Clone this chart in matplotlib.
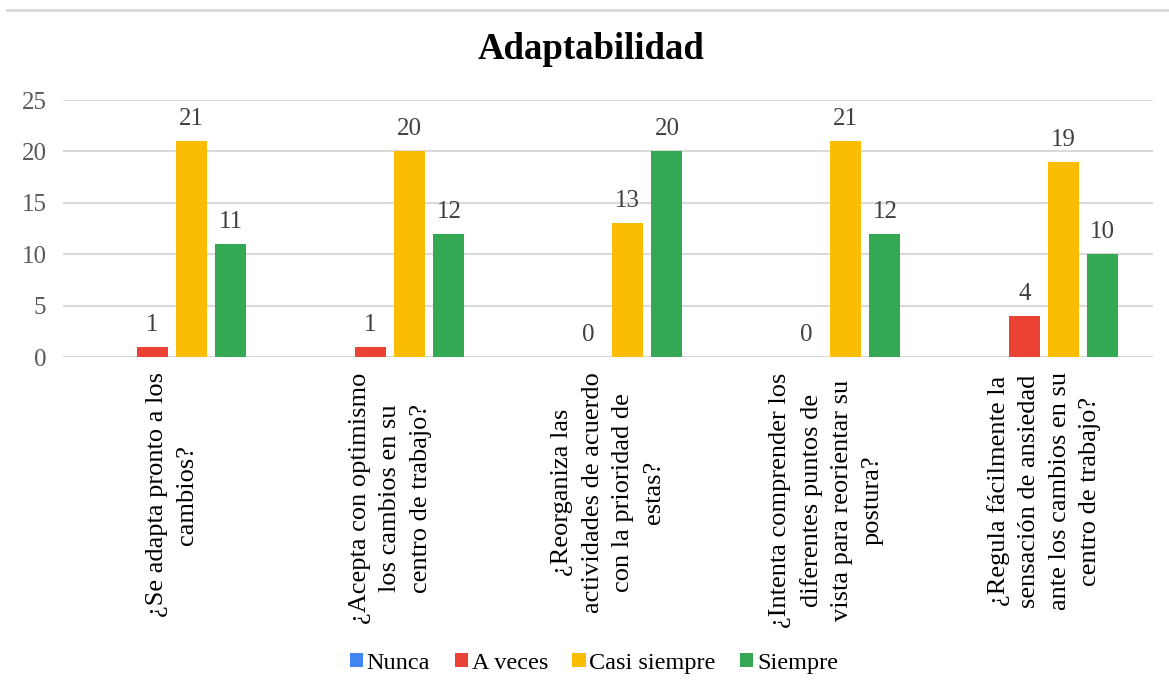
import numpy as np
import matplotlib.pyplot as plt
from matplotlib.lines import Line2D

plt.rcParams['font.family'] = ['Liberation Serif', 'DejaVu Serif']

categories = [
    "¿Se adapta pronto a los\ncambios?",
    "¿Acepta con optimismo\nlos cambios en su\ncentro de trabajo?",
    "¿Reorganiza las\nactividades de acuerdo\ncon la prioridad de\nestas?",
    "¿Intenta comprender los\ndiferentes puntos de\nvista para reorientar su\npostura?",
    "¿Regula fácilmente la\nsensación de ansiedad\nante los cambios en su\ncentro de trabajo?",
]
series_names = ["Nunca", "A veces", "Casi siempre", "Siempre"]
nunca = [0, 0, 0, 0, 0]
a_veces = [1, 1, 0, 0, 4]
casi_siempre = [21, 20, 13, 21, 19]
siempre = [11, 12, 20, 12, 10]
yticks = [0, 5, 10, 15, 20, 25]

colors = ['#4285F4', '#EA4335', '#FBBC04', '#34A853']
values = [nunca, a_veces, casi_siempre, siempre]

fig = plt.figure(figsize=(11.69, 6.95), dpi=100)
ax = fig.add_axes([0.054, 0.4863, 0.9323, 0.3698])

x = np.arange(len(categories))
step = 0.18
width = 0.142
for i, (name, vals, c) in enumerate(zip(series_names, values, colors)):
    bars = ax.bar(x + (i - 1.5) * step, vals, width, color=c, label=name, zorder=3)
    if i > 0:
        ax.bar_label(bars, padding=8, fontsize=18, color='#404040')

ax.set_xlim(-0.5, len(categories) - 0.5)
ax.set_ylim(0, 25)
ax.set_yticks(yticks)
ax.yaxis.grid(True, color='#D9D9D9', linewidth=1.5, zorder=0)
ax.set_axisbelow(True)
for s in ax.spines.values():
    s.set_visible(False)
ax.tick_params(axis='y', length=0, pad=12, labelsize=18, labelcolor='#595959')
ax.set_xticks(x)
ax.set_xticklabels(categories, rotation=90, ha='center', va='top',
                   multialignment='center', fontsize=19, linespacing=1.5)
ax.tick_params(axis='x', length=0, pad=11)

fig.text(0.506, 0.929, "Adaptabilidad", ha='center', va='center',
         fontsize=26.5, fontweight='bold')

fig.legend(loc='center', bbox_to_anchor=(0.508, 0.046), ncol=4, frameon=False,
           fontsize=17.5, handlelength=0.55, handleheight=0.55, handletextpad=0.15,
           columnspacing=1.0)

fig.add_artist(Line2D([0.006, 1.0], [0.9855, 0.9855], color='#D9D9D9', linewidth=2,
                      transform=fig.transFigure))

fig.savefig('out.png', dpi=100)
